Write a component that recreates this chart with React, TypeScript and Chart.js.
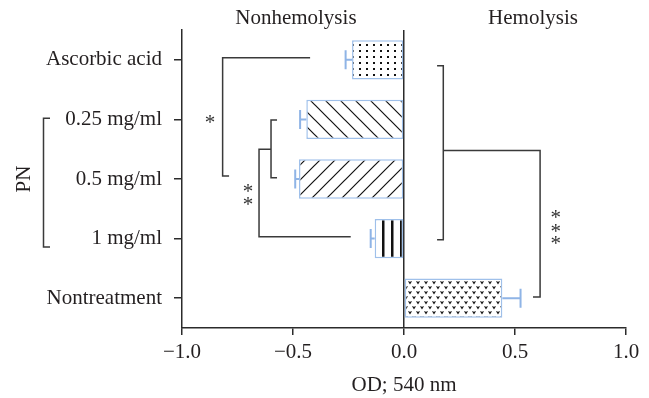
import React, { useEffect, useRef } from 'react';
import { Chart, registerables } from 'chart.js';

Chart.register(...registerables);

// ---------- data ----------
const categories = ['Ascorbic acid', '0.25 mg/ml', '0.5 mg/ml', '1 mg/ml', 'Nontreatment'];
const odValues = [-0.234, -0.44, -0.473, -0.132, 0.443];
const odErrors = [0.029, 0.028, 0.017, 0.018, 0.082];
const xTickValues = [-1, -0.5, 0, 0.5, 1];
const groupLabels = ['Nonhemolysis', 'Hemolysis'];
const xAxisTitle = 'OD; 540 nm';
const yGroupTitle = 'PN';
const sigLabels = ['*', '**', '***'];

// ---------- style ----------
const FONT = '"Liberation Serif", "Times New Roman", serif';
const FONT_SIZE = 21;
const TEXT = '#231f20';
const AXIS = '#2b2b2b';
const BRACKET = '#3a3a3a';
const BAR_BORDER = '#9fc0ea';
const ERR = '#8fb4e6';

function makePattern(w: number, h: number, draw: (c: CanvasRenderingContext2D) => void): CanvasPattern {
  const cv = document.createElement('canvas');
  cv.width = w;
  cv.height = h;
  const c = cv.getContext('2d')!;
  c.fillStyle = '#ffffff';
  c.fillRect(0, 0, w, h);
  draw(c);
  return c.createPattern(cv, 'repeat')!;
}

function buildPatterns(): CanvasPattern[] {
  const dots = makePattern(7, 6, (c) => {
    c.fillStyle = '#111';
    c.fillRect(2, 2, 2, 2);
  });
  const back = makePattern(15, 15, (c) => {
    c.strokeStyle = '#111';
    c.lineWidth = 1.2;
    c.beginPath();
    c.moveTo(-2, -2); c.lineTo(17, 17);
    c.moveTo(-2, 13); c.lineTo(2, 17);
    c.moveTo(13, -2); c.lineTo(17, 2);
    c.stroke();
  });
  const fwd = makePattern(15, 15, (c) => {
    c.strokeStyle = '#111';
    c.lineWidth = 1.2;
    c.beginPath();
    c.moveTo(-2, 17); c.lineTo(17, -2);
    c.moveTo(-2, 2); c.lineTo(2, -2);
    c.moveTo(13, 17); c.lineTo(17, 13);
    c.stroke();
  });
  const vert = makePattern(9, 4, (c) => {
    c.fillStyle = '#111';
    c.fillRect(4, 0, 2.5, 4);
  });
  const hearts = makePattern(8, 10, (c) => {
    c.strokeStyle = '#111';
    c.lineWidth = 1.1;
    c.beginPath();
    c.moveTo(0.6, 1.2); c.lineTo(2, 3.4); c.lineTo(3.4, 1.2);
    c.moveTo(4.6, 6.2); c.lineTo(6, 8.4); c.lineTo(7.4, 6.2);
    c.stroke();
  });
  return [dots, back, fwd, vert, hearts];
}

const annotationPlugin = {
  id: 'annotations',
  afterDraw(chart: any) {
    const { ctx } = chart;
    const xs = chart.scales.x;
    const ys = chart.scales.y;
    const px = (v: number) => xs.getPixelForValue(v);
    const y0 = ys.getPixelForValue(0);
    const step = ys.getPixelForValue(1) - y0;
    const py = (c: number) => y0 + c * step;

    ctx.save();
    // error bars
    const meta = chart.getDatasetMeta(0);
    ctx.strokeStyle = ERR;
    ctx.lineWidth = 2;
    meta.data.forEach((bar: any, i: number) => {
      const v = odValues[i];
      const e = odErrors[i];
      const end = px(v + Math.sign(v) * e);
      const y = bar.y;
      ctx.beginPath();
      ctx.moveTo(bar.x, y);
      ctx.lineTo(end, y);
      ctx.moveTo(end, y - 9.5);
      ctx.lineTo(end, y + 9.5);
      ctx.stroke();
    });

    // brackets
    ctx.strokeStyle = BRACKET;
    ctx.lineWidth = 1.5;
    ctx.lineJoin = 'miter';
    const path = (pts: [number, number][]) => {
      ctx.beginPath();
      pts.forEach(([v, c], k) => {
        const X = px(v), Y = py(c);
        if (k === 0) ctx.moveTo(X, Y); else ctx.lineTo(X, Y);
      });
      ctx.stroke();
    };
    path([[-0.423, -0.035], [-0.817, -0.035], [-0.817, 1.95], [-0.788, 1.95]]);
    path([[-0.572, 1.01], [-0.599, 1.01], [-0.599, 1.98], [-0.572, 1.98]]);
    path([[-0.599, 1.5], [-0.653, 1.5], [-0.653, 2.97], [-0.24, 2.97]]);
    path([[0.149, 0.1], [0.177, 0.1], [0.177, 3.02], [0.149, 3.02]]);
    path([[0.177, 1.52], [0.613, 1.52], [0.613, 3.98], [0.581, 3.98]]);

    // PN group bracket (left of tick labels)
    ctx.beginPath();
    ctx.moveTo(50, py(0.98));
    ctx.lineTo(43.5, py(0.98));
    ctx.lineTo(43.5, py(3.14));
    ctx.lineTo(50, py(3.14));
    ctx.stroke();

    // significance stars
    ctx.fillStyle = '#333';
    ctx.font = `${FONT_SIZE}px ${FONT}`;
    ctx.textAlign = 'center';
    ctx.textBaseline = 'alphabetic';
    const star = (v: number, c: number) => ctx.fillText(sigLabels[0], px(v), py(c) + FONT_SIZE * 0.55);
    star(-0.874, 0.96);
    star(-0.703, 2.13);
    star(-0.703, 2.35);
    star(0.683, 2.56);
    star(0.683, 2.79);
    star(0.683, 3.0);

    // group headers
    ctx.fillStyle = TEXT;
    ctx.textBaseline = 'middle';
    ctx.fillText(groupLabels[0], px(-0.487), 18);
    ctx.fillText(groupLabels[1], px(0.581), 18);
    ctx.restore();
  },
};

export default function App() {
  const ref = useRef<HTMLCanvasElement>(null);
  useEffect(() => {
    const canvas = ref.current!;
    const patterns = buildPatterns();
    const chart = new Chart(canvas, {
      type: 'bar',
      data: {
        labels: categories,
        datasets: [
          {
            data: odValues,
            backgroundColor: patterns as any,
            borderColor: BAR_BORDER,
            borderWidth: 1.5,
            borderSkipped: false,
            categoryPercentage: 1,
            barPercentage: 0.66,
          } as any,
        ],
      },
      options: {
        indexAxis: 'y',
        responsive: false,
        animation: false,
        events: [],
        layout: { padding: { top: 30, right: 23, left: 0, bottom: 0 } },
        plugins: { legend: { display: false }, tooltip: { enabled: false } },
        scales: {
          x: {
            type: 'linear',
            min: -1,
            max: 1,
            afterBuildTicks: (s: any) => {
              s.ticks = xTickValues.map((v) => ({ value: v }));
            },
            afterFit: (s: any) => {
              s.height = 70;
            },
            ticks: {
              color: TEXT,
              font: { family: FONT, size: FONT_SIZE },
              padding: 5,
              maxRotation: 0,
              callback: (v: any) => {
                const n = Number(v);
                const s = Math.abs(n).toFixed(1);
                return n < 0 ? '\u2212' + s : s;
              },
            },
            grid: {
              drawOnChartArea: true,
              color: (c: any) => (c.tick && c.tick.value === 0 ? AXIS : 'rgba(0,0,0,0)'),
              lineWidth: 1.5,
              tickColor: AXIS,
              tickLength: 7,
            },
            border: { display: true, color: AXIS, width: 1.5 },
            title: {
              display: true,
              text: xAxisTitle,
              color: TEXT,
              font: { family: FONT, size: FONT_SIZE },
              padding: { top: 0, bottom: 0 },
            },
          },
          y: {
            type: 'category',
            offset: true,
            afterFit: (s: any) => {
              s.width = 182;
            },
            ticks: {
              color: TEXT,
              font: { family: FONT, size: FONT_SIZE },
              padding: 12,
            },
            grid: {
              offset: false,
              drawOnChartArea: false,
              tickColor: AXIS,
              tickLength: 8,
              lineWidth: 1.5,
            },
            border: { display: true, color: AXIS, width: 1.5 },
            title: {
              display: true,
              text: yGroupTitle,
              color: TEXT,
              font: { family: FONT, size: FONT_SIZE },
              padding: { top: 12, bottom: 0 },
            },
          },
        },
      },
      plugins: [annotationPlugin],
    });
    return () => chart.destroy();
  }, []);
  return (
    <div style={{ position: 'fixed', left: 0, top: 0, width: 649, height: 398, background: '#fff' }}>
      <canvas ref={ref} width={649} height={398} style={{ display: 'block', width: 649, height: 398 }} />
    </div>
  );
}
